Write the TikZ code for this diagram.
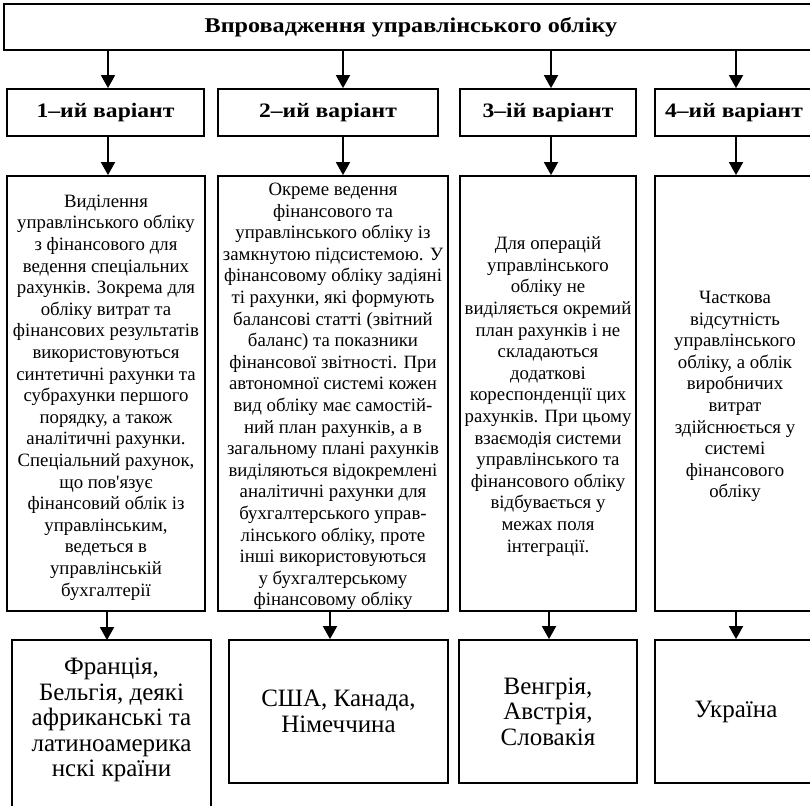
\documentclass[tikz,border=0pt]{standalone}
\usepackage{fontspec}
\setmainfont{Liberation Serif}
\newfontfamily\headfont[FakeStretch=1.15]{Liberation Serif}
\usetikzlibrary{arrows.meta}

\begin{document}
\begin{tikzpicture}[x=1pt,y=-1pt,
  box/.style={draw,line width=1.8pt,inner sep=0pt,align=center},
  arr/.style={line width=1.8pt,-{Triangle[length=13pt,width=14pt]}},
  txt/.style={align=center,inner sep=0pt,font=\fontsize{18.8}{21.6}\selectfont},
  cntry/.style={font=\fontsize{25}{25.5}\selectfont}]
  \useasboundingbox (0,0) rectangle (810,805);
  \clip (0,0) rectangle (810,805);
  \node[box,minimum width=814pt,minimum height=46pt,font=\headfont\bfseries\fontsize{21}{24}\selectfont] (top) at (411,27) {Впровадження управлінського обліку};
  \foreach \i/\cx/\w/\lbl in {1/105.5/197/ий,2/328/220/ий,3/548/176/ій,4/734/158/ий}
    \node[box,minimum width=\w pt,minimum height=47pt,font=\headfont\bfseries\fontsize{20.5}{24}\selectfont] (v\i) at (\cx,112.5) {\i–\lbl\ варіант};
  \foreach \i/\cx/\w in {1/106/198,2/333/230,3/548/176,4/735/160}
    \node[box,minimum width=\w pt,minimum height=435pt] (t\i) at (\cx,393.5) {};
  \node[txt] (t1x) at ([yshift=-4pt]t1.center) {Виділення\\управлінського обліку\\з фінансового для\\ведення спеціальних\\рахунків. Зокрема для\\обліку витрат та\\фінансових результатів\\використовуються\\синтетичні рахунки та\\субрахунки першого\\порядку, а також\\аналітичні рахунки.\\Спеціальний рахунок,\\що пов\textquotesingle язує\\фінансовий облік із\\управлінським,\\ведеться в\\управлінській\\бухгалтерії};
  \node[txt] (t2x) at ([yshift=-3pt]t2.center) {Окреме ведення\\фінансового та\\управлінського обліку із\\замкнутою підсистемою. У\\фінансовому обліку задіяні\\ті рахунки, які формують\\балансові статті (звітний\\баланс) та показники\\фінансової звітності. При\\автономної системі кожен\\вид обліку має самостій-\\ний план рахунків, а в\\загальному плані рахунків\\виділяються відокремлені\\аналітичні рахунки для\\бухгалтерського управ-\\лінського обліку, проте\\інші використовуються\\у бухгалтерському\\фінансовому обліку};
  \node[txt] (t3x) at ([yshift=-3pt]t3.center) {Для операцій\\управлінського\\обліку не\\виділяється окремий\\план рахунків і не\\складаються\\додаткові\\кореспонденції цих\\рахунків. При цьому\\взаємодія системи\\управлінського та\\фінансового обліку\\відбувається у\\межах поля\\інтеграції.};
  \node[txt] (t4x) at ([yshift=-3pt]t4.center) {Часткова\\відсутність\\управлінського\\обліку, а облік\\виробничих\\витрат\\здійснюється у\\системі\\фінансового\\обліку};
  \node[box,cntry,draw=none,minimum width=197pt,minimum height=158pt] (c1) at (111.5,720) {Франція,\\Бельгія, деякі\\африканські та\\латиноамерика\\нскі країни};
  \draw[line width=1.8pt] ([yshift=-30pt]c1.south west) -- (c1.north west) -- (c1.north east) -- ([yshift=-30pt]c1.south east);
  \node[box,cntry,minimum width=219pt,minimum height=143pt] (c2) at (338.5,711.5) {США, Канада,\\Німеччина};
  \node[box,cntry,minimum width=178pt,minimum height=143pt] (c3) at (548,711.5) {Венгрія,\\Австрія,\\Словакія};
  \node[box,cntry,minimum width=162pt,minimum height=143pt] (c4) at (736,711.5) {Україна};
  \foreach \i/\ax in {1/108,2/343,3/551,4/736}{
    \draw[arr] (top.south -| \ax,0) -- (v\i.north -| \ax,0);
    \draw[arr] (v\i.south -| \ax,0) -- (t\i.north -| \ax,0);
  }
  \foreach \i/\ax in {1/107,2/330,3/549,4/736}
    \draw[arr] (t\i.south -| \ax,0) -- (c\i.north -| \ax,0);
\end{tikzpicture}
\end{document}
